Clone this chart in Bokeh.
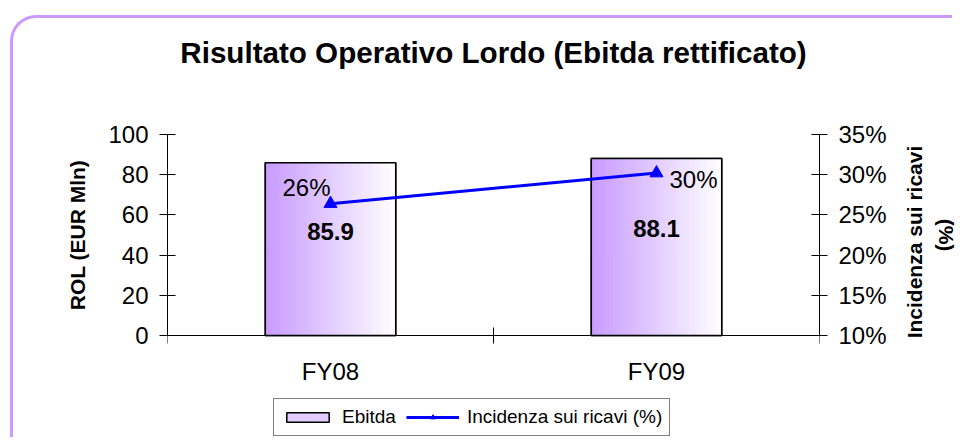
import math
from bokeh.plotting import figure
from bokeh.models import (Range1d, LinearAxis, FixedTicker, NumeralTickFormatter,
                          Legend, LegendItem, ColumnDataSource, InlineStyleSheet)
from bokeh.core.properties import value
from bokeh.embed import file_html
from bokeh.resources import INLINE

# ---- data ----
categories = ["FY08", "FY09"]
ebitda = [85.9, 88.1]
incidenza = [0.264, 0.302]
rol_ticks = [0, 20, 40, 60, 80, 100]
pct_ticks = [0.10, 0.15, 0.20, 0.25, 0.30, 0.35]
title_text = "Risultato Operativo Lordo (Ebitda rettificato)"
left_label = "ROL (EUR Mln)"
right_label = ["Incidenza sui ricavi", "(%)"]

FONT = "Liberation Sans"
PURPLE = (200, 155, 255)

# ---- layout constants (pixels) ----
PLOT_PX = 201      # height of the value area (0..100)
PAD_PX = 102       # extra frame space above and below the value area
TICK_PX = 8

xc = [i + 0.5 for i in range(len(categories))]
bar_w = 0.4

rol_span = rol_ticks[-1] - rol_ticks[0]
pct_span = pct_ticks[-1] - pct_ticks[0]
rol_pad = rol_span * PAD_PX / PLOT_PX
pct_pad = pct_span * PAD_PX / PLOT_PX

p = figure(frame_width=652, frame_height=PLOT_PX + 2 * PAD_PX,
           output_backend="svg", toolbar_location=None, title=None,
           x_axis_location=None,
           x_range=Range1d(0, len(categories)),
           y_range=Range1d(rol_ticks[0] - rol_pad, rol_ticks[-1] + rol_pad),
           min_border_left=167, min_border_right=133, min_border_top=32, min_border_bottom=0)
p.extra_y_ranges = {"pct": Range1d(pct_ticks[0] - pct_pad, pct_ticks[-1] + pct_pad)}
p.outline_line_color = None
p.xgrid.visible = False
p.ygrid.visible = False
p.background_fill_color = "white"
p.border_fill_color = "white"

# title
p.text(x=[len(categories) / 2], y=[rol_ticks[-1] + rol_pad], text=[title_text],
       y_offset=20, text_font=value(FONT), text_font_size=value("29.6px"),
       text_font_style="bold", text_align="center", text_baseline="middle",
       text_color="black")

# gradient bars built from thin slices
N = 48
sx, stop, sw, sc = [], [], [], []
for i, v in enumerate(ebitda):
    for k in range(N):
        t = k / (N - 1)
        r = int(PURPLE[0] + (255 - PURPLE[0]) * t)
        g = int(PURPLE[1] + (255 - PURPLE[1]) * t)
        b = int(PURPLE[2] + (255 - PURPLE[2]) * t)
        sx.append(xc[i] - bar_w / 2 + (k + 0.5) * bar_w / N)
        stop.append(v)
        sw.append(bar_w / N * 1.1)
        sc.append("#%02x%02x%02x" % (r, g, b))
base = p.vbar(x=xc, top=ebitda, width=bar_w, fill_color="#e3ccff",
              line_color="black", line_width=1.5)
slices = p.vbar(x="x", top="top", width="w", fill_color="c", line_color=None,
                source=ColumnDataSource(dict(x=sx, top=stop, w=sw, c=sc)))
p.vbar(x=xc, top=ebitda, width=bar_w, fill_color=None,
       line_color="black", line_width=1.5)

# category axis drawn at value 0
n_cat = len(categories)
tick_u = TICK_PX * rol_span / PLOT_PX
p.segment(x0=[0], x1=[n_cat], y0=[rol_ticks[0]], y1=[rol_ticks[0]],
          line_color="black", line_width=1)
bounds_x = list(range(n_cat + 1))
p.segment(x0=bounds_x, x1=bounds_x, y0=[rol_ticks[0] - tick_u] * len(bounds_x),
          y1=[rol_ticks[0] + tick_u] * len(bounds_x), line_color="black", line_width=1)
p.text(x=xc, y=[rol_ticks[0]] * n_cat, text=categories, y_offset=36,
       text_font=value(FONT), text_font_size=value("24px"),
       text_align="center", text_baseline="middle", text_color="black")

# bar value labels
p.text(x=xc, y=[v / 2 for v in ebitda], text=["%.1f" % v for v in ebitda],
       text_font=value(FONT), text_font_size=value("24px"), text_font_style="bold",
       text_align="center", text_baseline="middle", y_offset=-18, text_color="black")

# line series
ln = p.line(x=xc, y=incidenza, y_range_name="pct", line_color="#0000ff", line_width=3)
mk = p.scatter(x=xc, y=incidenza, y_range_name="pct", marker="triangle", size=13,
               fill_color="#0000ff", line_color="#0000ff")
lab_dx = [-24, 37]
lab_dy = [-16, 6]
p.text(x=xc, y=incidenza, y_range_name="pct",
       text=["%d%%" % round(v * 100) for v in incidenza],
       x_offset=lab_dx, y_offset=lab_dy,
       text_font=value(FONT), text_font_size=value("24px"),
       text_align="center", text_baseline="middle", text_color="black")

# left axis
ya = p.yaxis[0]
ya.ticker = FixedTicker(ticks=rol_ticks)
ya.bounds = (rol_ticks[0], rol_ticks[-1])
ya.axis_label = left_label

# right axis (ticks + first label line)
ra = LinearAxis(y_range_name="pct", ticker=FixedTicker(ticks=pct_ticks),
                formatter=NumeralTickFormatter(format="0%"),
                bounds=(pct_ticks[0], pct_ticks[-1]),
                axis_label="\u00a0" * 17 + right_label[0])
p.add_layout(ra, "right")
# second label line on a bare axis
rb = LinearAxis(y_range_name="pct", ticker=FixedTicker(ticks=[]),
                axis_label=right_label[1], axis_line_color=None,
                major_tick_line_color=None, minor_tick_line_color=None,
                major_label_text_font_size="0px")
p.add_layout(rb, "right")

for ax in [ya, ra, rb]:
    ax.major_tick_in = 8
    ax.major_tick_out = 8
    ax.minor_tick_line_color = None
    ax.major_label_standoff = 11
    ax.major_label_text_font = FONT
    ax.major_label_text_color = "black"
    ax.axis_label_text_font = FONT
    ax.axis_label_text_font_size = "21px"
    ax.axis_label_text_font_style = "bold"
    ax.axis_label_text_color = "black"
    ax.axis_label_standoff = 16
for ax in [ya, ra]:
    ax.major_tick_line_color = "black"
    ax.axis_line_color = "black"
    ax.major_label_text_font_size = "24px"
rb.major_tick_in = 0
rb.major_tick_out = 0
rb.major_label_standoff = 0
ra.axis_label_orientation = math.pi / 2
ra.axis_label_align = "start"
ra.axis_label_standoff = 25
rb.axis_label_standoff = -6

# legend inside the (extended) frame, below the category labels
legend = Legend(items=[
    LegendItem(label="Ebitda", renderers=[base]),
    LegendItem(label="Incidenza sui ricavi (%)", renderers=[ln, mk]),
], orientation="horizontal", location=(106, 1))
legend.glyph_width = 53
legend.glyph_height = 12
legend.label_text_font = FONT
legend.label_text_font_size = "19px"
legend.label_text_color = "black"
legend.label_standoff = 8
legend.label_height = 22
legend.spacing = 10
legend.padding = 7
legend.margin = 0
legend.border_line_color = "black"
legend.border_line_width = 1
legend.background_fill_color = "white"
p.add_layout(legend, "center")

# rounded outer border (decoration drawn over the canvas)
p.stylesheets = [InlineStyleSheet(css="""
:host { position: relative; }
:host::after {
  content: ''; position: absolute; left: 10px; top: 15px;
  width: 942px; height: 422px; box-sizing: border-box;
  border-top: 3px solid #cc99ff; border-left: 3px solid #cc99ff;
  border-top-left-radius: 26px;
  pointer-events: none; z-index: 100;
}
""")]

open("out.html", "w").write(file_html(p, INLINE))
